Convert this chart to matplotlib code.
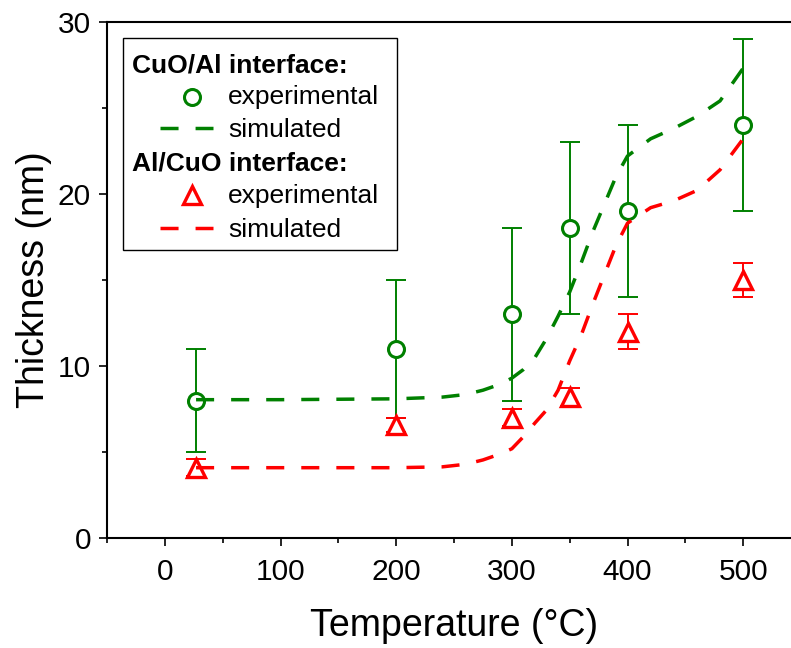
import matplotlib
matplotlib.use("Agg")
import matplotlib.pyplot as plt
from matplotlib.lines import Line2D
from matplotlib.patches import Rectangle
from matplotlib.ticker import MultipleLocator

plt.rcParams['font.family'] = ['Liberation Sans', 'DejaVu Sans']

# ---------------- data ----------------
temps = [27, 200, 300, 350, 400, 500]
cuo_al_exp = [8, 11, 13, 18, 19, 24]
cuo_al_err = [3, 4, 5, 5, 5, 5]
al_cuo_exp = [4.1, 6.6, 7.0, 8.2, 12, 15]
al_cuo_err = [0.5, 0.4, 0.5, 0.5, 1, 1]

sim_temps = [27, 100, 200, 240, 260, 275, 290, 300, 310, 320, 330, 340, 350,
             360, 370, 380, 390, 400, 420, 440, 460, 480, 500]
cuo_al_sim = [8.05, 8.05, 8.1, 8.2, 8.35, 8.6, 8.95, 9.3, 9.8, 10.5, 11.6, 12.9,
              14.3, 16.0, 17.8, 19.4, 21.0, 22.2, 23.2, 23.8, 24.5, 25.4, 27.3]
al_cuo_sim = [4.1, 4.1, 4.1, 4.15, 4.3, 4.55, 4.9, 5.2, 5.9, 6.7, 7.45, 8.6,
              10.3, 11.8, 13.6, 15.3, 17.0, 18.3, 19.2, 19.6, 20.2, 21.4, 23.2]

x_ticks = [0, 100, 200, 300, 400, 500]
y_ticks = [0, 10, 20, 30]

GREEN = '#008000'
RED = '#ff0000'

W, H = 791, 648
fig = plt.figure(figsize=(W / 100, H / 100), dpi=100)
AX_L, AX_R, AX_T, AX_B = 107, 801, 21.7, 538.3
ax = fig.add_axes([AX_L / W, 1 - AX_B / H, (AX_R - AX_L) / W, (AX_B - AX_T) / H])

DASH = (5.2, 4.9)
LW = 2.5

# error bars
ax.errorbar(temps, cuo_al_exp, yerr=cuo_al_err, fmt='none', ecolor=GREEN,
            elinewidth=1.4, capsize=7, capthick=1.4, zorder=1)
ax.errorbar(temps, al_cuo_exp, yerr=al_cuo_err, fmt='none', ecolor=RED,
            elinewidth=1.4, capsize=7, capthick=1.4, zorder=1)
# markers
ax.plot(temps, cuo_al_exp, ls='none', marker='o', ms=11.5, mfc='white',
        mec=GREEN, mew=2.2, zorder=2)
ax.plot(temps, al_cuo_exp, ls='none', marker='^', ms=13, mfc='white',
        mec=RED, mew=2.4, zorder=2)
# simulated
ax.plot(sim_temps, cuo_al_sim, color=GREEN, lw=LW, dashes=DASH, zorder=3)
ax.plot(sim_temps, al_cuo_sim, color=RED, lw=LW, dashes=DASH, zorder=3)

ax.set_xlim(-50, 550)
ax.set_ylim(0, 30)
ax.set_xticks(x_ticks)
ax.set_yticks(y_ticks)
ax.xaxis.set_minor_locator(MultipleLocator(50))
ax.yaxis.set_minor_locator(MultipleLocator(5))
ax.tick_params(which='both', direction='out', top=False, right=False,
               width=1.2, labelsize=21.5)
ax.tick_params(which='major', length=5.5)
ax.tick_params(axis='x', which='major', pad=8.5)
ax.tick_params(axis='y', which='major', pad=6)
ax.tick_params(which='minor', length=3.5)
for s in ax.spines.values():
    s.set_linewidth(1.5)
ax.spines['right'].set_visible(False)

ax.set_xlabel('Temperature (°C)', fontsize=27, labelpad=16)
ax.set_ylabel('Thickness (nm)', fontsize=27, labelpad=4)

# ---------------- legend (figure pixel coords) ----------------
def fx(px):
    return px / W

def fy(py):
    return 1 - py / H

fig.add_artist(Rectangle((fx(123), fy(250)), fx(397) - fx(123), fy(38) - fy(250),
                         transform=fig.transFigure, fill=True, facecolor='white',
                         edgecolor='black', lw=1.0, zorder=5))
LFS = 19
fig.text(fx(132), fy(72.5), 'CuO/Al interface:', fontsize=LFS, fontweight='bold',
         va='baseline', ha='left', zorder=6)
fig.text(fx(228), fy(104), 'experimental', fontsize=LFS, va='baseline', ha='left', zorder=6)
fig.text(fx(228), fy(137), 'simulated', fontsize=LFS, va='baseline', ha='left', zorder=6)
fig.text(fx(132), fy(171), 'Al/CuO interface:', fontsize=LFS, fontweight='bold',
         va='baseline', ha='left', zorder=6)
fig.text(fx(228), fy(203), 'experimental', fontsize=LFS, va='baseline', ha='left', zorder=6)
fig.text(fx(228), fy(237), 'simulated', fontsize=LFS, va='baseline', ha='left', zorder=6)

fig.add_artist(Line2D([fx(192)], [fy(96.7)], transform=fig.transFigure, ls='none',
                      marker='o', ms=11.5, mfc='white', mec=GREEN, mew=2.2, zorder=6))
fig.add_artist(Line2D([fx(160), fx(213)], [fy(128), fy(128)], transform=fig.transFigure,
                      color=GREEN, lw=LW, dashes=DASH, zorder=6))
fig.add_artist(Line2D([fx(192)], [fy(195)], transform=fig.transFigure, ls='none',
                      marker='^', ms=13, mfc='white', mec=RED, mew=2.4, zorder=6))
fig.add_artist(Line2D([fx(160), fx(213)], [fy(228), fy(228)], transform=fig.transFigure,
                      color=RED, lw=LW, dashes=DASH, zorder=6))

fig.savefig('out.png', dpi=100)
